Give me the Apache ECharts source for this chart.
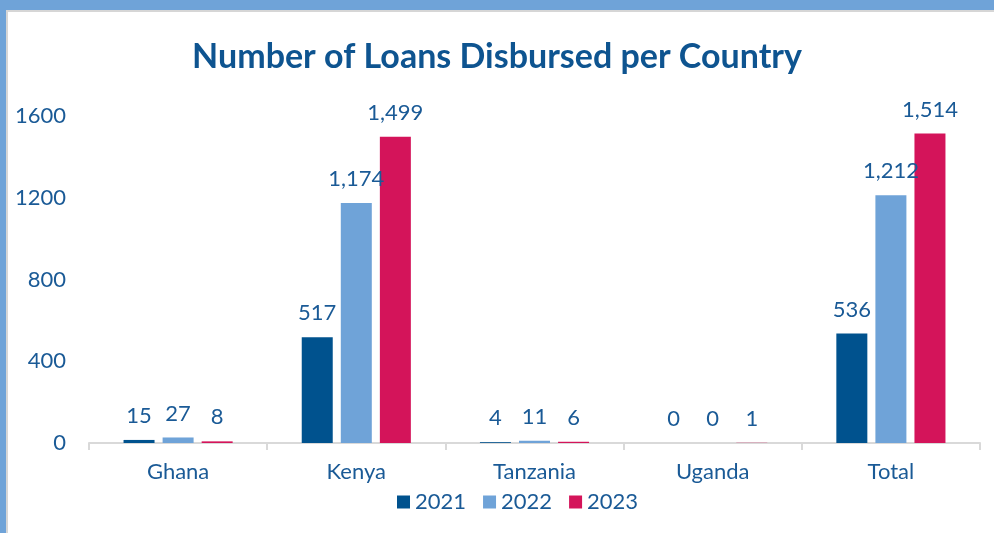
<!DOCTYPE html>
<html>
<head>
<meta charset="utf-8">
<script src="https://cdn.jsdelivr.net/npm/echarts@6/dist/echarts.min.js"></script>
<style>
html,body{margin:0;padding:0;width:994px;height:533px;overflow:hidden;background:#6fa3d8;}
#wrap{position:absolute;left:6px;top:10px;width:988px;height:523px;background:#fff;border-top:2px solid #d6d6d6;border-left:2px solid #d6d6d6;box-sizing:border-box;}
#chart{position:absolute;left:0;top:0;width:994px;height:533px;}
</style>
</head>
<body>
<div id="wrap"></div>
<div id="chart"></div>
<script>
const categories = ['Ghana', 'Kenya', 'Tanzania', 'Uganda', 'Total'];
const years = ['2021', '2022', '2023'];
const values2021 = [15, 517, 4, 0, 536];
const values2022 = [27, 1174, 11, 0, 1212];
const values2023 = [8, 1499, 6, 1, 1514];
const yTicks = [0, 400, 800, 1200, 1600];

const textColor = '#1a5a96';
const colors = ['#00528e', '#6fa3d8', '#d4145a'];
const fontFam = 'Lato, "Open Sans", sans-serif';
const fs = 22;

const chart = echarts.init(document.getElementById('chart'), null, {renderer: 'canvas'});
function mk(name, data, color) {
  return {
    name: name,
    type: 'bar',
    data: data,
    barWidth: 31,
    barGap: '26%',
    itemStyle: {color: color},
    label: {
      show: true,
      position: 'top',
      distance: 13,
      color: textColor,
      fontSize: fs,
      fontFamily: fontFam,
      formatter: p => Number(p.value).toLocaleString('en-US')
    }
  };
}
chart.setOption({
  backgroundColor: 'transparent',
  animation: false,
  color: colors,
  title: {
    text: 'Number of Loans Disbursed per Country',
    left: 'center',
    top: 35,
    textStyle: {color: '#0e5490', fontSize: 34, fontWeight: 'bold', fontFamily: fontFam}
  },
  legend: {
    data: years,
    bottom: 15,
    left: 392,
    itemWidth: 13,
    itemHeight: 13,
    itemGap: 17,
    icon: 'rect',
    textStyle: {color: textColor, fontSize: fs, fontFamily: fontFam}
  },
  grid: {left: 89, right: 14, top: 116, bottom: 90, containLabel: false},
  xAxis: {
    type: 'category',
    data: categories,
    axisLine: {lineStyle: {color: '#d9d9d9', width: 2}},
    axisTick: {show: true, length: 7, lineStyle: {color: '#d9d9d9', width: 2}},
    axisLabel: {color: textColor, fontSize: fs, fontFamily: fontFam, margin: 18}
  },
  yAxis: {
    type: 'value',
    min: yTicks[0],
    max: yTicks[yTicks.length - 1],
    interval: yTicks[1] - yTicks[0],
    splitLine: {show: false},
    axisLine: {show: false},
    axisTick: {show: false},
    axisLabel: {color: textColor, fontSize: fs, fontFamily: fontFam, margin: 23, formatter: v => String(v)}
  },
  series: [
    mk(years[0], values2021, colors[0]),
    mk(years[1], values2022, colors[1]),
    mk(years[2], values2023, colors[2])
  ]
});
</script>
</body>
</html>
